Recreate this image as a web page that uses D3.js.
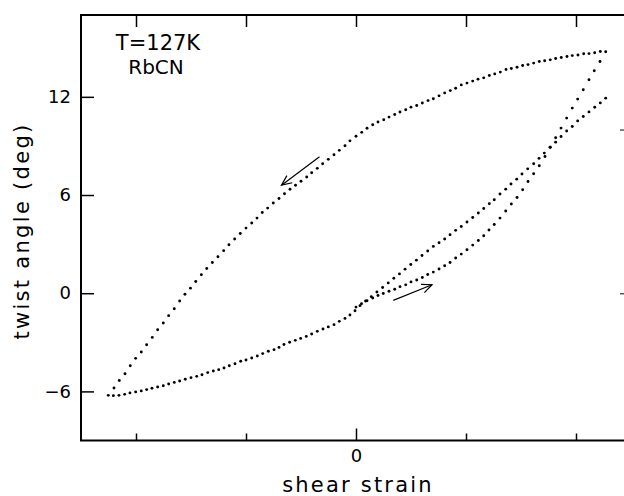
<!DOCTYPE html>
<html><head><meta charset="utf-8">
<script src="https://cdn.jsdelivr.net/npm/d3@7"></script>
<style>
body{margin:0;background:#fff}
svg{display:block}
text{font-family:"DejaVu Sans",sans-serif;fill:#000}
</style>
</head><body>
<svg id="c" width="624" height="496"></svg>
<script>
// Branch A: unloading, from top-right down to bottom-left
const aStrain=[2.270,2.221,2.170,2.118,2.070,2.018,1.966,1.918,1.866,1.815,1.766,1.715,1.666,1.615,1.564,1.515,1.464,1.412,1.364,1.312,1.261,1.212,1.161,1.109,1.061,1.009,0.957,0.906,0.857,0.806,0.755,0.703,0.655,0.603,0.552,0.500,0.452,0.400,0.352,0.300,0.252,0.200,0.152,0.100,0.052,0,-0.055,-0.100,-0.152,-0.200,-0.252,-0.303,-0.352,-0.403,-0.448,-0.500,-0.550,-0.600,-0.650,-0.700,-0.752,-0.803,-0.852,-0.900,-0.948,-1.000,-1.052,-1.103,-1.155,-1.203,-1.255,-1.306,-1.357,-1.406,-1.457,-1.505,-1.555,-1.603,-1.652,-1.703,-1.752,-1.803,-1.852,-1.903,-1.952,-2.003,-2.052,-2.100,-2.152,-2.200,-2.252];
const aTwist=[14.75,14.77,14.69,14.64,14.63,14.56,14.52,14.46,14.40,14.34,14.26,14.20,14.16,14.06,13.97,13.91,13.81,13.73,13.67,13.51,13.40,13.30,13.16,13.08,12.96,12.84,12.73,12.52,12.38,12.24,12.06,11.88,11.77,11.62,11.47,11.37,11.21,11.07,10.92,10.76,10.60,10.46,10.29,10.08,9.83,9.59,9.31,9.01,8.73,8.46,8.18,7.91,7.63,7.36,7.10,6.84,6.60,6.35,6.08,5.79,5.51,5.20,4.93,4.59,4.29,3.98,3.65,3.31,2.96,2.60,2.23,1.88,1.51,1.13,0.72,0.31,-0.06,-0.48,-0.95,-1.37,-1.82,-2.23,-2.70,-3.15,-3.59,-3.98,-4.43,-4.92,-5.33,-5.79,-6.24];
// Branch B: reloading, from bottom-left up to the right end
const bStrain=[-2.206,-2.155,-2.103,-2.055,-2.003,-1.952,-1.903,-1.855,-1.803,-1.752,-1.703,-1.652,-1.603,-1.552,-1.500,-1.448,-1.400,-1.348,-1.297,-1.248,-1.200,-1.152,-1.100,-1.048,-1.000,-0.948,-0.897,-0.848,-0.797,-0.745,-0.700,-0.655,-0.603,-0.552,-0.503,-0.452,-0.403,-0.352,-0.300,-0.252,-0.200,-0.152,-0.100,-0.055,-0.009,0.036,0.087,0.139,0.190,0.242,0.293,0.344,0.395,0.446,0.498,0.549,0.600,0.652,0.703,0.755,0.806,0.855,0.906,0.957,1.009,1.061,1.112,1.161,1.212,1.257,1.309,1.361,1.409,1.461,1.509,1.561,1.615,1.664,1.712,1.764,1.815,1.864,1.915,1.966,2.015,2.066,2.118,2.170,2.221,2.270];
const bTwist=[-6.26,-6.24,-6.18,-6.09,-6.03,-5.97,-5.89,-5.81,-5.73,-5.65,-5.55,-5.45,-5.36,-5.26,-5.16,-5.08,-4.98,-4.85,-4.75,-4.67,-4.57,-4.43,-4.31,-4.16,-4.08,-3.96,-3.84,-3.69,-3.55,-3.45,-3.31,-3.13,-3.00,-2.88,-2.76,-2.64,-2.49,-2.33,-2.19,-2.06,-1.92,-1.72,-1.54,-1.33,-1.07,-0.76,-0.48,-0.21,0.07,0.35,0.63,0.91,1.18,1.47,1.75,2.02,2.30,2.58,2.86,3.08,3.31,3.57,3.84,4.08,4.35,4.63,4.90,5.18,5.47,5.71,6.06,6.36,6.67,6.97,7.28,7.60,7.91,8.24,8.56,8.92,9.23,9.58,9.91,10.19,10.53,10.80,11.08,11.36,11.63,11.92];
// Branch C: initial loading, from near the origin up to the top-right corner
const cStrain=[0,0.050,0.100,0.152,0.200,0.248,0.300,0.352,0.400,0.452,0.500,0.552,0.603,0.652,0.703,0.755,0.806,0.855,0.906,0.957,1.009,1.061,1.112,1.161,1.209,1.257,1.309,1.361,1.412,1.464,1.515,1.564,1.615,1.666,1.718,1.766,1.815,1.864,1.915,1.966,2.015,2.066,2.118,2.166,2.218];
const cTwist=[-0.85,-0.64,-0.46,-0.29,-0.14,-0.02,0.12,0.24,0.40,0.51,0.69,0.81,0.96,1.14,1.29,1.48,1.68,1.88,2.15,2.39,2.66,2.94,3.22,3.51,3.86,4.20,4.59,5.02,5.45,5.85,6.32,6.83,7.30,7.79,8.35,8.92,9.50,10.09,10.70,11.31,11.86,12.43,13.04,13.59,14.16];

const yTicks=[12,6,0,-6];
const xTicks=[-2,-1,0,1,2];
const rightTicks=[0,10];
const xLabeled=[0];
// arrows: [fromStrain, fromTwist, toStrain, toTwist]
const arrow1=[-0.332,8.34,-0.677,6.60];
const arrow2=[0.339,-0.44,0.691,0.52];

const svg=d3.select("#c");
const L=81,R=631,T=15,B=440.5;
const x=d3.scaleLinear().domain([-2.5,2.5]).range([L,R]);
const y=d3.scaleLinear().domain([-9,17]).range([B,T]);

// frame
svg.append("rect").attr("x",L).attr("y",T).attr("width",R-L).attr("height",B-T)
  .attr("fill","none").attr("stroke","#000").attr("stroke-width",2);

const fmtY=d=>d<0?"\u2212"+Math.abs(d):String(d);
const gl=svg.append("g").attr("transform",`translate(${L},0)`)
  .call(d3.axisLeft(y).tickValues(yTicks).tickSizeInner(-13).tickSizeOuter(0).tickPadding(10).tickFormat(fmtY));
const gb=svg.append("g").attr("transform",`translate(0,${B})`)
  .call(d3.axisBottom(x).tickValues(xTicks).tickSizeInner(-7).tickSizeOuter(0).tickPadding(9)
  .tickFormat(d=>xLabeled.includes(d)?String(d):""));
gb.selectAll(".tick line").filter(d=>d===0).attr("y2",-12);
const gt=svg.append("g").attr("transform",`translate(0,${T})`)
  .call(d3.axisTop(x).tickValues(xTicks).tickSizeInner(-12).tickSizeOuter(0).tickFormat(""));
const gr=svg.append("g").attr("transform",`translate(${R},0)`)
  .call(d3.axisRight(y).tickValues(rightTicks).tickSizeInner(-11).tickSizeOuter(0).tickFormat(""));
[gl,gb,gt,gr].forEach(g=>{
  g.select(".domain").remove();
  g.selectAll(".tick line").attr("stroke","#000").attr("stroke-width",1.5);
  g.selectAll("text").style("font-family","'DejaVu Sans',sans-serif").style("font-size","18px").attr("fill","#000");
});
gr.selectAll(".tick line").attr("stroke","#555");

// dots
const pts=[];
aStrain.forEach((s,i)=>pts.push([s,aTwist[i]]));
bStrain.forEach((s,i)=>pts.push([s,bTwist[i]]));
cStrain.forEach((s,i)=>pts.push([s,cTwist[i]]));
svg.append("g").selectAll("circle").data(pts).join("circle")
  .attr("cx",d=>x(d[0])).attr("cy",d=>y(d[1])).attr("r",1.45).attr("fill","#000");

// arrows
function arrow(a){
  const x1=x(a[0]),y1=y(a[1]),x2=x(a[2]),y2=y(a[3]);
  const ang=Math.atan2(y2-y1,x2-x1), len=11, sp=0.42;
  const g=svg.append("g").attr("stroke","#000").attr("stroke-width",1.2).attr("fill","none");
  g.append("line").attr("x1",x1).attr("y1",y1).attr("x2",x2).attr("y2",y2);
  g.append("path").attr("d",`M${x2-len*Math.cos(ang-sp)},${y2-len*Math.sin(ang-sp)}L${x2},${y2}L${x2-len*Math.cos(ang+sp)},${y2-len*Math.sin(ang+sp)}`);
}
arrow(arrow1);arrow(arrow2);

// texts
svg.append("text").attr("x",158).attr("y",50).attr("text-anchor","middle").style("font-size","21px").text("T=127K");
svg.append("text").attr("x",156).attr("y",74).attr("text-anchor","middle").style("font-size","20px").text("RbCN");
svg.append("text").attr("x",358).attr("y",492).attr("text-anchor","middle").style("font-size","21px").style("letter-spacing","2.2px").text("shear strain");
svg.append("text").attr("transform","translate(29,231) rotate(-90)").attr("text-anchor","middle").style("font-size","21px").style("letter-spacing","2.3px").text("twist angle (deg)");
</script>
</body></html>
